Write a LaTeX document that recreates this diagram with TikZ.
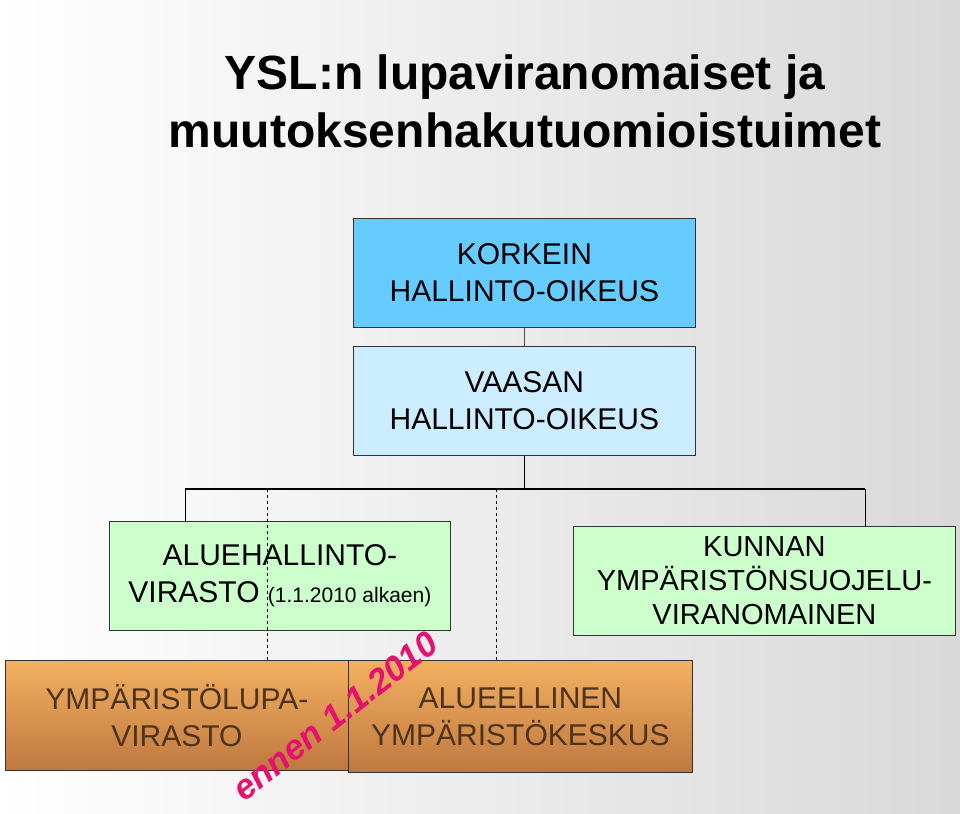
\documentclass[tikz,border=0pt]{standalone}
\usepackage{fontspec}
\setmainfont{Liberation Sans}
\begin{document}
\begin{tikzpicture}[x=1pt,y=-1pt,
 box/.style={draw=black!80,line width=0.8pt,anchor=north west,inner sep=0pt,align=center,font=\fontsize{30}{37}\selectfont},
 orange/.style={box,top color={rgb,255:red,244;green,176;blue,96},bottom color={rgb,255:red,190;green,120;blue,64},text=brown!40!black},
 conn/.style={line width=1pt}]
\shade[left color=white,right color=black!15] (0,0) rectangle (960,813);
\useasboundingbox (0,0) rectangle (960,813);
\node[font=\fontsize{48}{58}\selectfont\bfseries,align=center] (title) at (525,101) {YSL:n lupaviranomaiset ja\\muutoksenhakutuomioistuimet};
\node[box,fill={rgb,255:red,102;green,204;blue,255},minimum width=342,minimum height=109] (kho) at (353,218) {KORKEIN\\HALLINTO-OIKEUS};
\node[box,fill={rgb,255:red,204;green,236;blue,255},minimum width=342,minimum height=109] (vho) at (353,346) {VAASAN\\HALLINTO-OIKEUS};
\node[box,fill={rgb,255:red,204;green,255;blue,204},minimum width=341,minimum height=109] (avi) at (109,521) {ALUEHALLINTO-\\VIRASTO {\fontsize{21}{24}\selectfont(1.1.2010 alkaen)}};
\node[box,fill={rgb,255:red,204;green,255;blue,204},minimum width=382,minimum height=109,font=\fontsize{29}{34}\selectfont] (kun) at (573,526) {KUNNAN\\YMPÄRISTÖNSUOJELU-\\VIRANOMAINEN};
\node[orange,minimum width=343,minimum height=110] (ylv) at (5,660) {YMPÄRISTÖLUPA-\\VIRASTO};
\node[orange,minimum width=344,minimum height=112] (ely) at (348,660) {ALUEELLINEN\\YMPÄRISTÖKESKUS};
\coordinate (bl) at (185,489); \coordinate (br) at (865,489);
\draw[black!70,line width=0.6pt] (kho.south) -- (vho.north);
\draw[conn] (vho.south) -- (vho.south |- bl);
\draw[line width=1.5pt] (bl) -- (br);
\draw[conn] (bl) -- (bl |- avi.north);
\draw[conn] (br) -- (br |- kun.north);
\draw[dashed,line width=0.6pt] (267,489) -- (267,660);
\draw[dashed,line width=0.6pt] (496,489) -- (496,660);
\node[rotate=38,text={rgb,255:red,230;green,16;blue,110},font=\fontsize{35}{40}\selectfont\bfseries\itshape] (ennen) at (335,716) {ennen 1.1.2010};
\end{tikzpicture}
\end{document}
